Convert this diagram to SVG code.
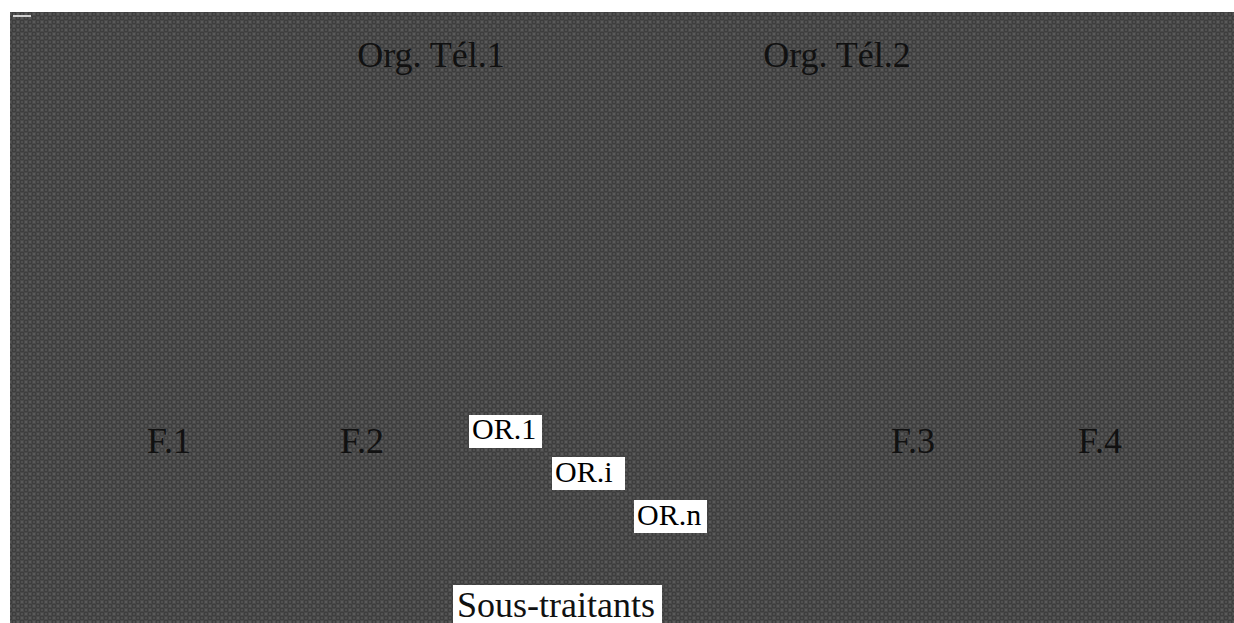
<svg xmlns="http://www.w3.org/2000/svg" width="1234" height="623" viewBox="0 0 1234 623">
  <defs>
    <!-- fine grey checker used as the canvas fill -->
    <pattern id="checker" width="8" height="8" patternUnits="userSpaceOnUse">
      <rect width="8" height="8" fill="#4a4a4a"/>
      <rect x="0" y="0" width="4" height="4" fill="#3e3e3e"/>
      <rect x="4" y="4" width="4" height="4" fill="#3e3e3e"/>
      <rect x="1" y="1" width="2" height="2" fill="#505050"/>
      <rect x="5" y="1" width="2" height="2" fill="#5a5a5a"/>
      <rect x="1" y="5" width="2" height="2" fill="#5a5a5a"/>
      <rect x="5" y="5" width="2" height="2" fill="#505050"/>
    </pattern>
    <style>
      .lbl { font-family: "Liberation Serif", "Times New Roman", serif; font-size: 36px; fill: #111; }
      .sm { font-family: "Liberation Serif", "Times New Roman", serif; font-size: 30px; fill: #000; }
      .box { fill: #ffffff; }
    </style>
  </defs>

  <rect width="1234" height="623" fill="#ffffff"/>
  <rect x="10" y="12" width="1224" height="611" fill="url(#checker)"/>
  <line x1="13" y1="16" x2="31" y2="16" stroke="#ffffff" stroke-width="1.5"/>

  <g id="org1"><text class="lbl" x="431" y="67" text-anchor="middle">Org. Tél.1</text></g>
  <g id="org2"><text class="lbl" x="837" y="67" text-anchor="middle">Org. Tél.2</text></g>

  <g id="f1"><text class="lbl" x="169" y="453" text-anchor="middle">F.1</text></g>
  <g id="f2"><text class="lbl" x="362" y="453" text-anchor="middle">F.2</text></g>
  <g id="f3"><text class="lbl" x="913" y="453" text-anchor="middle">F.3</text></g>
  <g id="f4"><text class="lbl" x="1100" y="453" text-anchor="middle">F.4</text></g>

  <g id="or1">
    <rect class="box" x="469" y="415" width="73" height="33"/>
    <text class="sm" x="472" y="439">OR.1</text>
  </g>
  <g id="ori">
    <rect class="box" x="552" y="457" width="73" height="33"/>
    <text class="sm" x="555" y="482">OR.i</text>
  </g>
  <g id="orn">
    <rect class="box" x="634" y="500" width="73" height="33"/>
    <text class="sm" x="637" y="525">OR.n</text>
  </g>

  <g id="sous-traitants">
    <rect class="box" x="453" y="585" width="209" height="38"/>
    <text class="lbl" x="457" y="617">Sous-traitants</text>
  </g>

  <g id="connectors"></g>
</svg>
